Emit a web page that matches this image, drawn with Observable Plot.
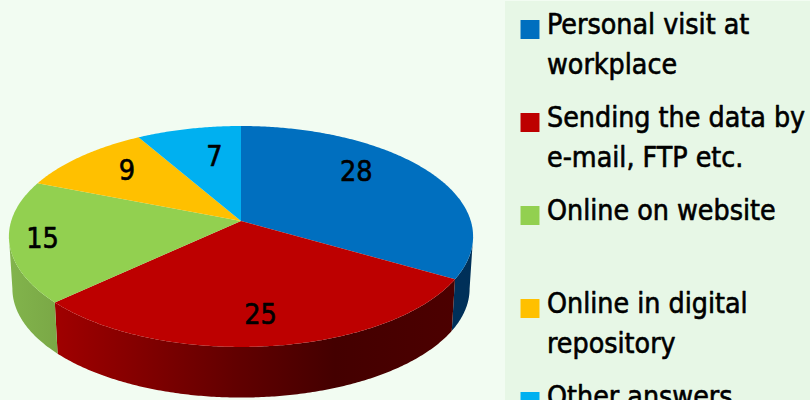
<!DOCTYPE html>
<html>
<head>
<meta charset="utf-8">
<script src="https://cdn.jsdelivr.net/npm/d3@7"></script>
<script src="https://cdn.jsdelivr.net/npm/@observablehq/plot@0.6"></script>
<style>
html,body{margin:0;padding:0;background:#f2fcf2;overflow:hidden}
#wrap{position:relative;width:810px;height:400px;background:#f2fcf2}
#panel{position:absolute;left:505px;top:1px;width:305px;height:399px;background:#e7f7e6}
#wrap svg{position:absolute;top:0;background:transparent;font-family:"DejaVu Sans",sans-serif;font-stretch:condensed}
</style>
</head>
<body>
<div id="wrap"><div id="panel"></div></div>
<script>
const categories = ["Personal visit at workplace","Sending the data by e-mail, FTP etc.","Online on website","Online in digital repository","Other answers"];
const legendLabels = ["Personal visit at\nworkplace","Sending the data by\ne-mail, FTP etc.","Online on website","Online in digital\nrepository","Other answers"];
const values = [28,25,15,9,7];
const colors = ["#006fbf","#bd0000","#92d050","#ffc000","#00b0f0"];

// layout of the tilted disc
const W=810,H=400,cx=241,cy=221,a=229.8,b=108.3,k=0.14,depth=52.5,baseScale=0.985;
const labelNudge=[[-18,-13],[-1,9.5],[-38,3],[0,-4.5],[11,2]];
const project=(th,r=1,base=false)=>{
  const X=r*Math.sin(th),Y=-r*Math.cos(th),d=1-k*Y,s=base?baseScale:1;
  return [cx+s*a*X/d, cy+(base?depth:0)+s*b*Y/d];
};
const total=d3.sum(values);
let acc=0;
const slices=values.map((v,i)=>{const t0=acc/total*2*Math.PI;acc+=v;const t1=acc/total*2*Math.PI;return{i,category:categories[i],value:v,t0,t1};});
const arcOf=(t0,t1)=>{const n=Math.max(8,Math.ceil((t1-t0)/0.01));return d3.range(n+1).map(j=>t0+(t1-t0)*j/n);};

// the wall is visible between the rim's rightmost and leftmost points
const sweep=d3.range(0,2*Math.PI,0.002);
const wallStart=d3.greatest(sweep,th=>project(th)[0]);
const wallEnd=d3.least(sweep,th=>project(th)[0]);

const sideFills=["url(#side0)","url(#side1)","url(#side2)"];
const gradients=[
  [[0,"#00305a"],[1,"#003058"]],
  [[0,"#a00000"],[0.45,"#620000"],[0.7,"#440000"],[1,"#4c0000"]],
  [[0,"#82b44c"],[1,"#7aa846"]]
];
const gradientDefs=()=>{
  const ns="http://www.w3.org/2000/svg",defs=document.createElementNS(ns,"defs");
  gradients.forEach((stops,i)=>{
    const g=document.createElementNS(ns,"linearGradient");
    g.setAttribute("id","side"+i);
    stops.forEach(([o,c])=>{const st=document.createElementNS(ns,"stop");st.setAttribute("offset",o);st.setAttribute("stop-color",c);g.appendChild(st);});
    defs.appendChild(g);
  });
  return defs;
};

const sideMarks=slices.filter(s=>s.t1>wallStart&&s.t0<wallEnd).map(s=>{
  const data=arcOf(Math.max(s.t0,wallStart),Math.min(s.t1,wallEnd)).map(th=>{const [x1,y1]=project(th),[x2,y2]=project(th,1,true);return{x1,y1,x2,y2};});
  return Plot.area(data,{x1:"x1",y1:"y1",x2:"x2",y2:"y2",fill:sideFills[s.i],curve:"linear"});
});
const topData=slices.flatMap(s=>arcOf(s.t0,s.t1).map(th=>{const [x,y]=project(th);return{x,y,cx,cy,category:s.category};}));
const labels=slices.map(s=>{
  const [x,y]=project((s.t0+s.t1)/2,0.7);
  return{x:x+labelNudge[s.i][0],y:y+labelNudge[s.i][1],value:s.value};
});

const pie=Plot.plot({
  width:W,height:H,margin:0,
  x:{domain:[0,W],range:[0,W],axis:null},
  y:{domain:[0,H],range:[0,H],axis:null},
  color:{domain:categories,range:colors},
  marks:[
    gradientDefs,
    ...sideMarks,
    Plot.area(topData,{x1:"x",y1:"y",x2:"cx",y2:"cy",z:"category",fill:"category",curve:"linear"}),
    Plot.text(labels,{x:"x",y:"y",text:"value",fontSize:28.5,fill:"black",stroke:"black",strokeWidth:0.6})
  ]
});
pie.style.left="0";

const rows=categories.map((c,i)=>({category:c,label:legendLabels[i]}));
const legend=Plot.plot({
  width:305,height:H,margin:0,
  y:{type:"point",padding:0,domain:categories,range:[27.5,402.5],axis:null},
  color:{domain:categories,range:colors},
  marks:[
    Plot.dot(rows,{y:"category",fill:"category",symbol:"square",r:10.7,frameAnchor:"left",dx:24.5}),
    Plot.text(rows,{y:"category",text:"label",frameAnchor:"left",textAnchor:"start",lineAnchor:"top",dx:41.5,dy:-24,lineHeight:1.42,fontSize:28.3,fill:"black",stroke:"black",strokeWidth:0.6})
  ]
});
legend.style.left="505px";
const wrap=document.getElementById("wrap");
wrap.appendChild(pie);wrap.appendChild(legend);
</script>
</body>
</html>
